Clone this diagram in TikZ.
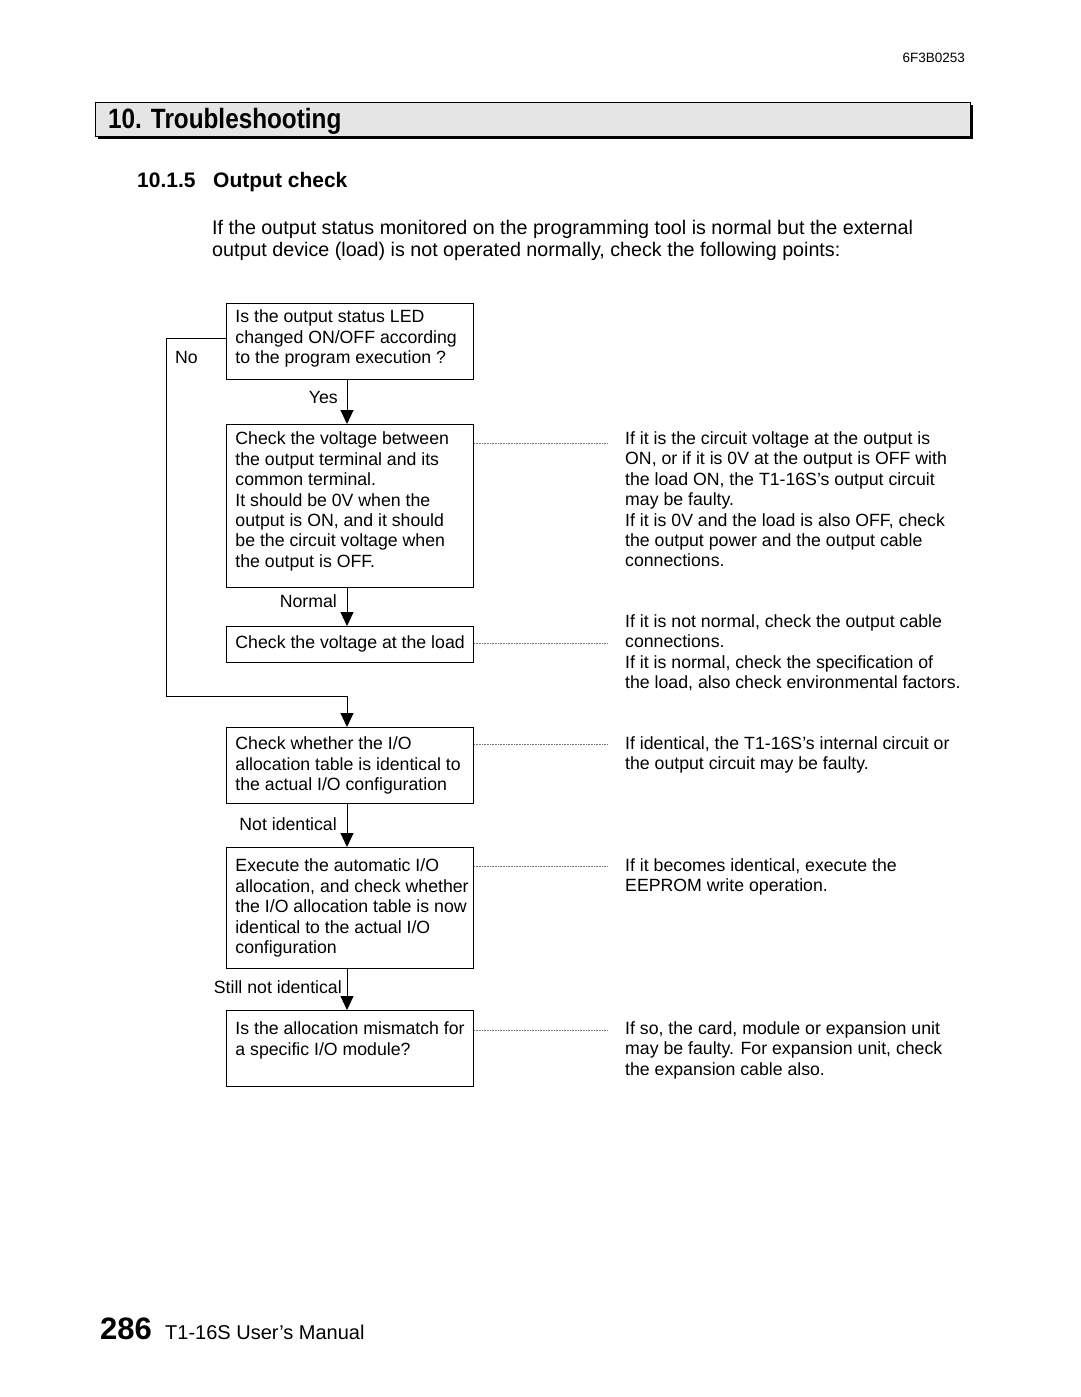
\documentclass[tikz,border=0pt]{standalone}
\usepackage{fontspec}
\setmainfont{Liberation Sans}
\usetikzlibrary{arrows.meta,shadows}
\newcommand{\bxtext}[3]{\parbox[c][#2pt][t]{247pt}{\raggedright\leftskip=9pt\vspace*{#1pt}\strut #3}}
\newcommand{\bxmid}[2]{\parbox[c][#1pt][c]{247pt}{\raggedright\leftskip=9pt\strut #2}}
\newcommand{\rtxt}[1]{\parbox[t]{420pt}{\raggedright\strut #1}}
\begin{document}
\begin{tikzpicture}[x=1pt,y=-1pt,
  body/.style={font=\fontsize{17.7}{20.4}\selectfont, inner sep=0pt},
  fbox/.style={draw, line width=0.9pt, anchor=north west, inner sep=0pt, body},
  rtext/.style={anchor=base west, body},
  lbl/.style={anchor=base east, body},
  flow/.style={line width=1pt, -{Triangle[length=14pt,width=13pt]}},
  dotline/.style={draw=black!55, line width=0.7pt, dash pattern=on 0.8pt off 0.8pt}]
\useasboundingbox (0,0) rectangle (1080,1397);

% page header
\node[anchor=base east, inner sep=0pt, font=\fontsize{13.5}{16}\selectfont] (docno) at (965,63) {6F3B0253};
\node[draw, line width=1.2pt, fill=black!10, anchor=north west, minimum width=875pt, minimum height=34pt, inner sep=0pt,
      drop shadow={shadow xshift=2.5pt, shadow yshift=-2.5pt, fill=black, opacity=1}] (hdr) at (95,102) {};
\node[anchor=base west, inner sep=0pt, font=\fontsize{24.3}{28}\selectfont\bfseries] (hdrtxt) at (108,128.5) {\scalebox{1}[1.15]{10. Troubleshooting}};
\node[anchor=base west, inner sep=0pt, font=\fontsize{21}{25}\selectfont\bfseries] (sec) at (137,187.5) {\makebox[76pt][l]{10.1.5}Output check};
\node[anchor=base west, inner sep=0pt, font=\fontsize{19.7}{22}\selectfont] (intro) at (212,234.5)
  {\parbox[t]{800pt}{\raggedright\strut If the output status monitored on the programming tool is normal but the external\\
   output device (load) is not operated normally, check the following points:}};

% flow boxes
\node[fbox] (b1) at (226,303) {\bxtext{5.2}{76}{Is the output status LED\\changed ON/OFF according\\to the program execution ?}};
\node[fbox] (b2) at (226,424) {\bxtext{6.2}{163}{Check the voltage between\\the output terminal and its\\common terminal.\\It should be 0V when the\\output is ON, and it should\\be the circuit voltage when\\the output is OFF.}};
\node[fbox] (b3) at (226,626) {\bxmid{36}{Check the voltage at the load}};
\node[fbox] (b4) at (226,727) {\bxtext{8.2}{76}{Check whether the I/O\\allocation table is identical to\\the actual I/O configuration}};
\node[fbox] (b5) at (226,847) {\bxtext{10.2}{121}{Execute the automatic I/O\\allocation, and check whether\\the I/O allocation table is now\\identical to the actual I/O\\configuration}};
\node[fbox] (b6) at (226,1010) {\bxtext{10.2}{76}{Is the allocation mismatch for\\a specific I/O module?}};

% labels
\node[anchor=base west, body] (no) at (175,363.5) {No};
\node[lbl] (yes) at (338,403.5) {Yes};
\node[lbl] (normal) at (337,607.5) {Normal};
\node[lbl] (notid) at (337,830.5) {Not identical};
\node[lbl] (stillnot) at (342,993.5) {Still not identical};

% arrows
\coordinate (ax) at (347,0);
\coordinate (j1) at (347,696);
\draw[flow] (b1.south -| ax) -- (b2.north -| ax);
\draw[flow] (b2.south -| ax) -- (b3.north -| ax);
\draw[flow] (b4.south -| ax) -- (b5.north -| ax);
\draw[flow] (b5.south -| ax) -- (b6.north -| ax);
\draw[flow] ([yshift=3pt]b1.west) -- ++(-60,0) |- (j1) -- (b4.north -| ax);

% right column
\node[rtext] (r1) at (625,444.5) {\rtxt{If it is the circuit voltage at the output is\\ON, or if it is 0V at the output is OFF with\\the load ON, the T1-16S’s output circuit\\may be faulty.\\If it is 0V and the load is also OFF, check\\the output power and the output cable\\connections.}};
\node[rtext] (r2) at (625,627.5) {\rtxt{If it is not normal, check the output cable\\connections.\\If it is normal, check the specification of\\the load, also check environmental factors.}};
\node[rtext] (r3) at (625,749.5) {\rtxt{If identical, the T1-16S’s internal circuit or\\the output circuit may be faulty.}};
\node[rtext] (r4) at (625,871.5) {\rtxt{If it becomes identical, execute the\\EEPROM write operation.}};
\node[rtext] (r5) at (625,1034.5) {\rtxt{If so, the card, module or expansion unit\\may be faulty. For expansion unit, check\\the expansion cable also.}};

% dotted leaders
\coordinate (d2) at (608,443);
\coordinate (d3) at (608,643);
\coordinate (d4) at (608,744);
\coordinate (d5) at (608,866);
\coordinate (d6) at (608,1030);
\draw[dotline] (b2.east |- d2) -- (d2);
\draw[dotline] (b3.east |- d3) -- (d3);
\draw[dotline] (b4.east |- d4) -- (d4);
\draw[dotline] (b5.east |- d5) -- (d5);
\draw[dotline] (b6.east |- d6) -- (d6);

% footer
\node[anchor=base west, inner sep=0pt, font=\fontsize{31}{36}\selectfont\bfseries] (pg) at (100,1339) {286};
\node[anchor=base west, inner sep=0pt, font=\fontsize{20}{24}\selectfont] (man) at (165,1339) {T1-16S User’s Manual};
\end{tikzpicture}
\end{document}
